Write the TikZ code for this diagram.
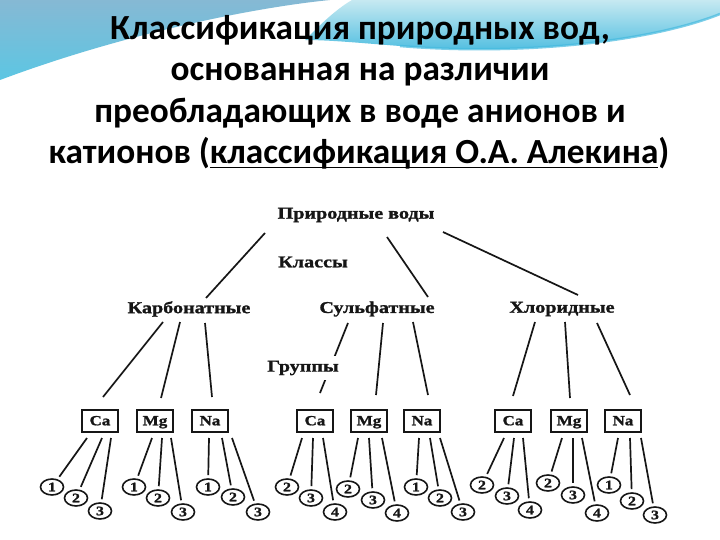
\documentclass[tikz,border=0pt]{standalone}
\usepackage{fontspec}
\setmainfont{Carlito}
\newfontfamily\dfont[FakeStretch=1.22, BoldFeatures={FakeBold=1.3}]{Liberation Serif}
\newsavebox\ulbox
\newcommand\myul[1]{\sbox\ulbox{#1}\rlap{\rule[-4.5pt]{\wd\ulbox}{1.8pt}}\usebox\ulbox}
\usetikzlibrary{shapes.geometric}
\definecolor{ink}{HTML}{161616}
\definecolor{bgA}{HTML}{86B9D4}
\definecolor{bgB}{HTML}{5CC6E3}
\definecolor{bgC}{HTML}{C6E9F1}
\definecolor{bgD}{HTML}{45BADF}
\tikzset{
  ttl/.style={font=\bfseries\fontsize{35.3}{40}\selectfont, text=black, inner sep=0pt, anchor=base},
  lbl/.style={font=\dfont\bfseries\fontsize{16.5}{18}\selectfont, text=ink, inner sep=1pt},
  elbox/.style={draw=ink, line width=1.5pt, minimum width=36pt, minimum height=22pt, inner sep=0pt,
    text height=9.5pt, text depth=1pt, font=\dfont\bfseries\fontsize{14}{14}\selectfont, text=ink},
  num/.style={ellipse, draw=ink, line width=1.6pt, minimum width=23pt, minimum height=16pt, inner sep=0pt,
    font=\dfont\bfseries\fontsize{13}{13}\selectfont, text=ink},
  conn/.style={draw=ink, line width=1.7pt}
}
\begin{document}
\begin{tikzpicture}[x=1pt,y=-1pt]
\useasboundingbox (0,0) rectangle (720,540);
\fill[white] (0,0) rectangle (720,540);
% background waves
\shade[top color=bgA, bottom color=bgB] (0,0) -- (330,0) .. controls (250,8) and (120,35) .. (0,80) -- cycle;
\shade[top color=bgC, bottom color=bgD] (352,0) -- (720,0) -- (720,14) .. controls (650,42) and (520,56) .. (400,46)
   .. controls (360,43) and (330,40) .. (305,40) .. controls (320,25) and (335,10) .. cycle;
\draw[bgD, line width=2.5pt, opacity=0.7] (720,14) .. controls (650,42) and (520,56) .. (400,46);

% title
\node[ttl] (t1) at (360,40) {Классификация природных вод,};
\node[ttl] (t2) at (360,81) {основанная на различии};
\node[ttl] (t3) at (360,123) {преобладающих в воде анионов и};
\node[ttl] (t4) at (359,164) {катионов (\myul{классификация О.А. Алекина})};

% tree labels
\node[lbl] (root) at (356,215) {Природные воды};
\node[lbl] (cls) at (313,262) {Классы};
\node[lbl] (carb) at (189,309) {Карбонатные};
\node[lbl] (sulf) at (377,309) {Сульфатные};
\node[lbl] (chlor) at (562,309) {Хлоридные};

% boxes and numbered circles
\foreach \g/\gx/\el/\sa/\sb/\sc/\na/\xa/\ya/\nb/\xb/\yb/\nc/\xc/\yc in {
  caA/100/Ca/-13/2/11/1/52/487/2/76/498/3/100/511,
  mgA/155/Mg/-3/7/16/1/134/487/2/158/498/3/183/512,
  naA/210/Na/-1/12/22/1/208/487/2/233/497/3/258/512,
  caB/315/Ca/-13/-2/8/2/287/487/3/311/498/4/335/512,
  mgB/369/Mg/-11/0/13/2/348/489/3/373/500/4/397/513,
  naB/422/Na/-3/8/18/1/416/487/2/440/498/3/463/512,
  caC/513/Ca/-9/1/10/2/482/485/3/507/496/4/530/510,
  mgC/569/Mg/-7/4/13/2/548/483/3/573/495/4/597/513,
  naC/623/Na/-5/7/18/1/609/485/2/632/501/3/655/515}
{
  \node[elbox] (\g) at (\gx,421) {\el};
  \node[num] (\g-a) at (\xa,\ya) {\na};
  \node[num] (\g-b) at (\xb,\yb) {\nb};
  \node[num] (\g-c) at (\xc,\yc) {\nc};
  \draw[conn, shorten >=3pt] ([shift={(\sa,17)}]\g.center) -- (\g-a);
  \draw[conn, shorten >=3pt] ([shift={(\sb,17)}]\g.center) -- (\g-b);
  \draw[conn, shorten >=3pt] ([shift={(\sc,17)}]\g.center) -- (\g-c);
}

% root to classes
\draw[conn] ([shift={(-91,18)}]root.center) -- ([shift={(17,-11)}]carb.center);
\draw[conn] ([shift={(31,22)}]root.center) -- ([shift={(51,-12)}]sulf.center);
\draw[conn] ([shift={(87,17)}]root.center) -- ([shift={(16,-14)}]chlor.center);

% classes to groups
\draw[conn] ([shift={(-26,13)}]carb.center) -- ([shift={(3,-24)}]caA.center);
\draw[conn] ([shift={(-9,13)}]carb.center) -- ([shift={(6,-23)}]mgA.center);
\draw[conn] ([shift={(16,14)}]carb.center) -- ([shift={(2,-24)}]naA.center);
\draw[conn] ([shift={(-29,14)}]sulf.center) -- ([shift={(5,-28)}]caB.center);
\draw[conn] ([shift={(6,14)}]sulf.center) -- ([shift={(7,-26)}]mgB.center);
\draw[conn] ([shift={(36,13)}]sulf.center) -- ([shift={(6,-26)}]naB.center);
\draw[conn] ([shift={(-27,13)}]chlor.center) -- ([shift={(0,-25)}]caC.center);
\draw[conn] ([shift={(3,13)}]chlor.center) -- ([shift={(1,-23)}]mgC.center);
\draw[conn] ([shift={(35,14)}]chlor.center) -- ([shift={(7,-26)}]naC.center);

\node[lbl, fill=white, inner sep=5pt] (grp) at (303,368) {Группы};
\end{tikzpicture}
\end{document}
